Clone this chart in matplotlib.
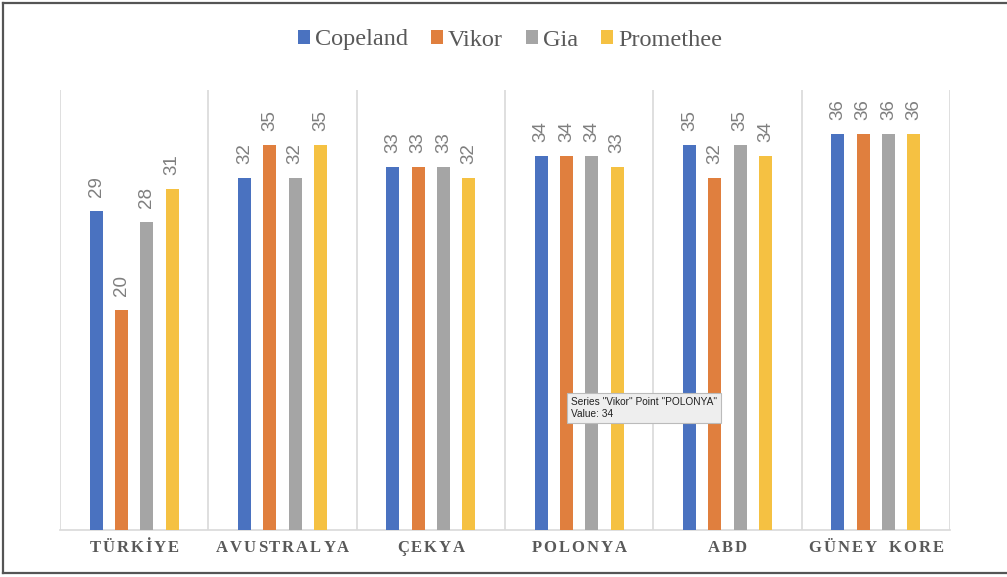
import numpy as np
import matplotlib
matplotlib.use("Agg")
import matplotlib.pyplot as plt
from matplotlib.patches import Patch
from matplotlib.lines import Line2D

# ---------------------------------------------------------------------
# Dados
# ---------------------------------------------------------------------
paises = ["TÜRKİYE", "AVUSTRALYA", "ÇEKYA", "POLONYA", "ABD", "GÜNEY KORE"]
metodos = ["Copeland", "Vikor", "Gia", "Promethee"]

copeland = [29, 32, 33, 34, 35, 36]
vikor = [20, 35, 33, 34, 32, 36]
gia = [28, 32, 33, 34, 35, 36]
promethee = [31, 35, 32, 33, 34, 36]

valores = [copeland, vikor, gia, promethee]
cores = ["#4A72C0", "#E07F3E", "#A5A5A5", "#F5C142"]

# ---------------------------------------------------------------------
# Figura
# ---------------------------------------------------------------------
W, H = 1007, 577
fig = plt.figure(figsize=(W / 100, H / 100), dpi=100)
ax = fig.add_axes([60 / W, (H - 530) / H, 890 / W, 440 / H])

x = np.arange(len(paises))
largura = 0.088
passo = 0.171
offsets = [-1.5 * passo, -0.5 * passo, 0.5 * passo, 1.5 * passo]

for serie, cor, off in zip(valores, cores, offsets):
    barras = ax.bar(x + off, serie, width=largura, color=cor, zorder=3)
    for b, v in zip(barras, serie):
        ax.annotate(
            str(v),
            (b.get_x() + b.get_width() / 2, b.get_height()),
            xytext=(0, 10), textcoords="offset points",
            ha="center", va="bottom", rotation=90,
            fontsize=13.5, color="#7F7F7F", family="Liberation Sans",
        )

ax.set_xlim(-0.5, len(paises) - 0.5)
ax.set_ylim(0, 40)
ax.set_yticks([])
ax.set_xticks([])
for s in ["top", "left", "right"]:
    ax.spines[s].set_visible(False)
ax.spines["bottom"].set_color("#D9D9D9")
ax.spines["bottom"].set_linewidth(1.2)

for pos in np.arange(-0.5, len(paises), 1.0):
    ax.axvline(pos, color="#D9D9D9", linewidth=1.2, zorder=1)

# rótulos das categorias: letra a letra, com espaçamento fixo
renderer = fig.canvas.get_renderer()
estilo = dict(fontsize=12, fontweight="bold", color="#595959",
              family="Liberation Serif", va="center", ha="left")
gap = 2.0        # px entre letras
gap_palavra = 8  # px extra entre palavras
y_rot = 1 - 548 / H

for xi, nome in zip(x, paises):
    larguras = []
    for ch in nome:
        if ch == " ":
            larguras.append(gap_palavra)
            continue
        t = fig.text(0, 0, ch, **estilo)
        larguras.append(t.get_window_extent(renderer).width)
        t.remove()
    total = sum(larguras) + gap * (len(nome) - 1)
    cx = ax.transData.transform((xi, 0))[0]
    pos = cx - total / 2
    for ch, w in zip(nome, larguras):
        if ch != " ":
            fig.text(pos / W, y_rot, ch, **estilo)
        pos += w + gap

# legenda
handles = [Patch(facecolor=c, edgecolor="none") for c in cores]
fig.legend(handles, metodos, loc="center", bbox_to_anchor=(510 / W, 1 - 40 / H),
           ncol=4, frameon=False, handlelength=0.5, handleheight=0.5,
           handletextpad=0.2, columnspacing=0.95,
           prop={"family": "Liberation Serif", "size": 17.5},
           labelcolor="#595959")

# tooltip
fig.text(571 / W, 1 - 408 / H,
         'Series "Vikor" Point "POLONYA"\nValue: 34',
         ha="left", va="center", fontsize=7.3, family="Liberation Sans",
         color="#222222", linespacing=1.25,
         bbox=dict(boxstyle="square,pad=0.35", facecolor="#EEEEEE",
                   edgecolor="#BBBBBB", linewidth=0.8), zorder=10)

# moldura
borda = dict(color="#555555", linewidth=1.6, transform=fig.transFigure)
fig.add_artist(Line2D([3 / W, 3 / W], [1 - 3 / H, 4 / H], **borda))
fig.add_artist(Line2D([3 / W, 1], [1 - 3 / H, 1 - 3 / H], **borda))
fig.add_artist(Line2D([3 / W, 1], [4 / H, 4 / H], **borda))

fig.savefig("out.png", dpi=100)
